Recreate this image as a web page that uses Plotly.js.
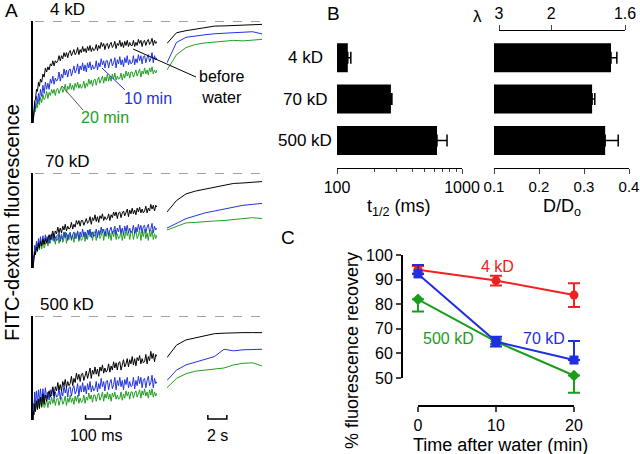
<!DOCTYPE html>
<html><head><meta charset="utf-8">
<script src="https://cdn.plot.ly/plotly-3.0.1.min.js"></script>
<style>html,body{margin:0;padding:0;background:#fff}#plot{width:640px;height:454px}</style>
</head><body><div id="plot"></div>
<script>
// ---------- Panel A data (normalised FITC-dextran fluorescence) ----------
const fastTimeMs = [0,2,4,7,10,14,18,22,26,30,35,40,45,
  50,55,60,65,70,75,80,85,90,95,100,105,110,115,120,125,130,135,140,145,150,155,160,165,170,175,180,185,190,195,
  200,205,210,215,220,225,230,235,240,245,250,255,260,265,270,275,280,285,290,295,300,305,310,315,320,325,330,335,340,345,
  350,355,360,365,370,375,380,385,390,395,400,405,410,415,420,425,430,435,440,445,450,455,460,465,470,475,480,485,490,495,500];
const slowTimeS = [0,1,2,3,4,5,6,7,8,9,10];

const fast4kBlack = [0.00,0.09,0.13,0.22,0.23,0.33,0.31,0.40,0.36,0.43,0.40,0.48,0.45,
  0.54,0.50,0.55,0.52,0.58,0.56,0.61,0.56,0.61,0.59, 0.61,0.66,0.61,0.66,0.63,0.69,0.65,0.69,0.64,0.69,
  0.71,0.66,0.70,0.72,0.67,0.69,0.74,0.67,0.72,0.69, 0.75,0.70,0.73,0.69,0.75,0.71,0.76,0.70,0.74,0.71,
  0.72,0.77,0.71,0.76,0.73,0.79,0.75,0.78,0.72,0.77, 0.78,0.73,0.77,0.79,0.74,0.76,0.80,0.73,0.78,0.76,
  0.81,0.75,0.79,0.74,0.80,0.76,0.81,0.75,0.79,0.76, 0.76,0.81,0.75,0.79,0.76,0.82,0.78,0.81,0.75,0.80,
  0.81,0.76,0.80,0.82,0.77,0.79,0.83,0.76,0.81,0.78, 0.80];
const fast4kBlue = [0.00,0.09,0.08,0.19,0.14,0.26,0.19,0.29,0.22,0.33,0.26,0.37,0.29,
  0.40,0.33,0.39,0.33,0.43,0.39,0.46,0.38,0.44,0.41, 0.43,0.50,0.41,0.48,0.44,0.53,0.47,0.52,0.45,0.52,
  0.53,0.46,0.52,0.56,0.49,0.52,0.58,0.48,0.56,0.52, 0.59,0.51,0.57,0.50,0.59,0.54,0.60,0.52,0.57,0.53,
  0.54,0.61,0.52,0.59,0.55,0.63,0.57,0.61,0.54,0.61, 0.61,0.54,0.60,0.63,0.56,0.59,0.64,0.54,0.62,0.58,
  0.65,0.57,0.62,0.55,0.64,0.59,0.66,0.57,0.62,0.58, 0.59,0.66,0.57,0.63,0.59,0.67,0.61,0.66,0.58,0.65,
  0.66,0.59,0.64,0.67,0.60,0.63,0.69,0.59,0.66,0.62, 0.64];
const fast4kGreen = [0.00,0.07,0.07,0.15,0.11,0.19,0.15,0.23,0.18,0.25,0.20,0.28,0.23,
  0.25,0.31,0.24,0.30,0.27,0.33,0.29,0.33,0.27,0.33, 0.34,0.29,0.33,0.36,0.30,0.33,0.38,0.30,0.36,0.33,
  0.39,0.33,0.37,0.32,0.39,0.35,0.40,0.34,0.38,0.34, 0.36,0.41,0.34,0.39,0.36,0.43,0.38,0.42,0.36,0.42,
  0.43,0.37,0.42,0.45,0.39,0.42,0.46,0.39,0.45,0.41, 0.48,0.41,0.46,0.41,0.48,0.43,0.49,0.42,0.46,0.43,
  0.44,0.49,0.42,0.48,0.44,0.51,0.46,0.50,0.44,0.50, 0.50,0.45,0.49,0.52,0.46,0.49,0.53,0.45,0.51,0.48,
  0.54,0.48,0.52,0.47,0.54,0.50,0.55,0.48,0.52,0.49, 0.52];

const fast70kBlack = [0.00,0.08,0.08,0.17,0.14,0.22,0.18,0.26,0.21,0.28,0.23,0.30,0.25,
  0.31,0.26,0.32,0.35,0.30,0.34,0.39,0.32,0.39,0.36, 0.43,0.37,0.42,0.37,0.44,0.40,0.46,0.39,0.44,0.41,
  0.42,0.48,0.41,0.46,0.43,0.50,0.46,0.50,0.44,0.50, 0.50,0.45,0.50,0.52,0.47,0.49,0.54,0.46,0.53,0.50,
  0.56,0.49,0.54,0.48,0.55,0.52,0.57,0.50,0.54,0.51, 0.52,0.57,0.50,0.56,0.53,0.59,0.55,0.59,0.52,0.58,
  0.59,0.53,0.58,0.60,0.55,0.58,0.62,0.54,0.61,0.57, 0.63,0.57,0.61,0.56,0.63,0.59,0.64,0.58,0.62,0.58,
  0.60,0.65,0.58,0.63,0.60,0.67,0.62,0.66,0.60,0.66, 0.64];
const fast70kBlue = [0.00,0.13,0.11,0.24,0.17,0.28,0.20,0.31,0.22,0.33,0.24,0.34,0.25,
  0.35,0.27,0.33,0.26,0.35,0.30,0.36,0.28,0.33,0.29, 0.30,0.37,0.28,0.34,0.30,0.38,0.32,0.37,0.29,0.36,
  0.37,0.30,0.35,0.38,0.31,0.34,0.39,0.30,0.38,0.33, 0.41,0.33,0.38,0.31,0.40,0.35,0.41,0.32,0.38,0.33,
  0.35,0.41,0.32,0.39,0.35,0.43,0.37,0.41,0.34,0.41, 0.42,0.34,0.40,0.43,0.36,0.39,0.44,0.35,0.42,0.38,
  0.45,0.37,0.42,0.35,0.44,0.39,0.45,0.37,0.42,0.37, 0.39,0.45,0.36,0.43,0.38,0.46,0.40,0.45,0.37,0.44,
  0.45,0.37,0.43,0.46,0.38,0.41,0.47,0.37,0.44,0.40, 0.42];
const fast70kGreen = [0.00,0.11,0.10,0.22,0.14,0.26,0.17,0.28,0.19,0.30,0.20,0.31,0.21,
  0.25,0.33,0.23,0.31,0.26,0.36,0.29,0.34,0.25,0.34, 0.35,0.26,0.32,0.36,0.27,0.31,0.38,0.26,0.35,0.30,
  0.38,0.29,0.35,0.27,0.37,0.31,0.38,0.28,0.34,0.29, 0.31,0.38,0.28,0.36,0.30,0.40,0.33,0.38,0.29,0.38,
  0.38,0.29,0.36,0.40,0.31,0.34,0.41,0.29,0.38,0.33, 0.41,0.31,0.37,0.29,0.39,0.33,0.40,0.30,0.36,0.31,
  0.32,0.40,0.29,0.37,0.31,0.41,0.34,0.39,0.30,0.38, 0.39,0.30,0.36,0.40,0.31,0.34,0.41,0.29,0.38,0.33,
  0.41,0.31,0.37,0.29,0.39,0.33,0.40,0.30,0.36,0.31, 0.35];

const fast500kBlack = [0.00,0.08,0.05,0.15,0.08,0.18,0.10,0.20,0.11,0.22,0.13,0.25,0.15,
  0.24,0.18,0.24,0.28,0.22,0.26,0.32,0.23,0.32,0.28, 0.36,0.29,0.34,0.28,0.37,0.33,0.39,0.31,0.37,0.33,
  0.35,0.42,0.33,0.40,0.36,0.45,0.39,0.44,0.37,0.44, 0.45,0.38,0.44,0.47,0.40,0.44,0.50,0.40,0.48,0.44,
  0.51,0.44,0.49,0.42,0.51,0.47,0.53,0.45,0.50,0.46, 0.48,0.54,0.46,0.52,0.48,0.56,0.50,0.55,0.48,0.55,
  0.56,0.48,0.54,0.58,0.51,0.54,0.59,0.51,0.58,0.54, 0.61,0.53,0.59,0.52,0.60,0.57,0.62,0.54,0.59,0.55,
  0.56,0.63,0.54,0.61,0.57,0.66,0.59,0.64,0.56,0.63, 0.61];
const fast500kBlue = [0.00,0.16,0.13,0.27,0.15,0.28,0.16,0.29,0.17,0.30,0.18,0.30,0.18,
  0.31,0.21,0.27,0.19,0.29,0.23,0.31,0.21,0.27,0.22, 0.23,0.31,0.20,0.28,0.23,0.33,0.26,0.31,0.22,0.31,
  0.32,0.23,0.30,0.33,0.25,0.28,0.35,0.23,0.33,0.27, 0.36,0.27,0.33,0.25,0.35,0.29,0.37,0.27,0.33,0.28,
  0.30,0.37,0.27,0.35,0.30,0.40,0.32,0.37,0.28,0.37, 0.38,0.29,0.36,0.39,0.30,0.34,0.41,0.29,0.38,0.33,
  0.41,0.32,0.38,0.29,0.39,0.34,0.41,0.31,0.37,0.32, 0.33,0.41,0.30,0.38,0.33,0.42,0.35,0.41,0.31,0.39,
  0.40,0.31,0.38,0.42,0.33,0.36,0.43,0.31,0.40,0.35, 0.37];
const fast500kGreen = [0.00,0.10,0.09,0.19,0.11,0.19,0.11,0.20,0.12,0.20,0.12,0.21,0.12,
  0.14,0.20,0.12,0.18,0.15,0.22,0.16,0.21,0.14,0.20, 0.21,0.14,0.19,0.22,0.15,0.18,0.23,0.14,0.21,0.17,
  0.24,0.17,0.21,0.15,0.23,0.18,0.24,0.16,0.21,0.17, 0.18,0.24,0.16,0.22,0.19,0.26,0.20,0.24,0.17,0.24,
  0.24,0.18,0.23,0.26,0.19,0.22,0.27,0.18,0.25,0.21, 0.27,0.20,0.25,0.18,0.26,0.22,0.27,0.20,0.24,0.20,
  0.21,0.27,0.19,0.25,0.21,0.28,0.23,0.27,0.20,0.27, 0.27,0.21,0.26,0.28,0.22,0.25,0.29,0.21,0.28,0.24,
  0.30,0.23,0.27,0.21,0.29,0.24,0.30,0.22,0.27,0.23, 0.26];

const slow4kBlack = [0.78,0.885,0.905,0.92,0.935,0.95,0.952,0.955,0.958,0.962,0.967];
const slow4kBlue = [0.59,0.79,0.84,0.855,0.865,0.875,0.88,0.885,0.89,0.895,0.873];
const slow4kGreen = [0.52,0.67,0.74,0.77,0.785,0.795,0.80,0.81,0.805,0.815,0.82];
const slow70kBlack = [0.59,0.71,0.78,0.81,0.83,0.85,0.87,0.89,0.895,0.905,0.91];
const slow70kBlue = [0.42,0.47,0.52,0.55,0.58,0.60,0.62,0.645,0.66,0.67,0.68];
const slow70kGreen = [0.40,0.44,0.475,0.48,0.49,0.495,0.50,0.51,0.525,0.53,0.52];
const slow500kBlack = [0.60,0.72,0.77,0.79,0.81,0.83,0.835,0.84,0.84,0.84,0.84];
const slow500kBlue = [0.38,0.48,0.53,0.555,0.585,0.61,0.68,0.665,0.675,0.68,0.68];
const slow500kGreen = [0.31,0.40,0.445,0.47,0.48,0.49,0.50,0.53,0.545,0.55,0.52];

const rowLabels = ['4 kD','70 kD','500 kD'];

// ---------- Panel B data ----------
const dextranSizes = ['4 kD','70 kD','500 kD'];
const halfTimeMs = [122, 270, 631];
const halfTimeErr = [7, 5, 128];
const diffRatio = [0.36, 0.318, 0.347];
const diffRatioErr = [0.013, 0.006, 0.029];
const halfTimeTicks = [100, 1000];
const halfTimeMinor = [200,300,400,500,600,700,800,900];
const diffTicks = [0.1, 0.2, 0.3, 0.4];
const lambdaLabels = ['3','2','1.6'];
const lambdaPos = [0.111, 0.227, 0.391];

// ---------- Panel C data ----------
const timeAfterWater = [0, 10, 20];
const rec4k = [94, 89.6, 83.7];
const rec4kErr = [1.5, 2, 4.8];
const rec70k = [92.3, 64.8, 57.3];
const rec70kErrPlus = [3.6, 2, 7.7];
const rec70kErrMinus = [0, 2, 0];
const rec500k = [82, 64.8, 51];
const rec500kErrPlus = [0, 1, 0];
const rec500kErrMinus = [5, 1, 7];
const recTicks = [50, 60, 70, 80, 90, 100];
const timeTicks = [0, 10, 20];

// ---------- layout helpers ----------
const W = 640, H = 454;
const px = x => x / W;
const py = y => 1 - y / H;
const FONT = 'Liberation Sans, Arial, sans-serif';
const cBlack = '#000000', cBlue = '#2233dd', cGreen = '#22a022';
const cRed = '#ee2222', cBlueC = '#1e2ee0', cGreenC = '#1c9c1c';

const traces = [];
const layout = {
  width: W, height: H, margin: {l:0, r:0, t:0, b:0},
  paper_bgcolor: '#fff', plot_bgcolor: 'rgba(0,0,0,0)',
  showlegend: false, font: {family: FONT, size: 15, color: '#000'},
  shapes: [], annotations: []
};

const rowTop = [21, 173, 316], rowBot = [123, 268, 420];
const fastSets = [[fast4kGreen, fast4kBlue, fast4kBlack],[fast70kGreen, fast70kBlue, fast70kBlack],[fast500kGreen, fast500kBlue, fast500kBlack]];
const slowSets = [[slow4kGreen, slow4kBlue, slow4kBlack],[slow70kGreen, slow70kBlue, slow70kBlack],[slow500kGreen, slow500kBlue, slow500kBlack]];
const colSet = [cGreen, cBlue, cBlack];

for (let r = 0; r < 3; r++) {
  const xf = 2*r+1, xs = 2*r+2;
  const ydom = [py(rowBot[r]), py(rowTop[r])];
  layout['xaxis'+xf] = {domain:[px(33), px(157)], range:[0,500], visible:false, anchor:'y'+xf};
  layout['yaxis'+xf] = {domain:ydom, range:[0,1], anchor:'x'+xf, showline:true, linewidth:2, linecolor:'#000',
                        showticklabels:false, ticks:'', showgrid:false, zeroline:false};
  layout['xaxis'+xs] = {domain:[px(167), px(262)], range:[0,10], visible:false, anchor:'y'+xs};
  layout['yaxis'+xs] = {domain:ydom, range:[0,1], visible:false, anchor:'x'+xs};
  for (let k = 0; k < 3; k++) {
    traces.push({type:'scatter', mode:'lines', x:fastTimeMs, y:fastSets[r][k], xaxis:'x'+xf, yaxis:'y'+xf,
                 line:{color:colSet[k], width:1}, hoverinfo:'skip'});
    traces.push({type:'scatter', mode:'lines', x:slowTimeS, y:slowSets[r][k], xaxis:'x'+xs, yaxis:'y'+xs,
                 line:{color:colSet[k], width:1}, hoverinfo:'skip'});
  }
  layout.shapes.push({type:'line', xref:'paper', yref:'y'+xf, x0:px(35), x1:px(263), y0:1, y1:1,
                      line:{color:'#444', width:1, dash:'dash'}});
  layout.annotations.push({text:rowLabels[r], xref:'paper', yref:'paper', x:px(67), y:py(rowTop[r]-12),
                           showarrow:false, font:{size:17}, xanchor:'center', yanchor:'middle'});
}

// scale bars
layout.shapes.push({type:'path', xref:'x5', yref:'paper',
  path:`M212,${py(415)} L212,${py(419)} L312,${py(419)} L312,${py(415)}`, line:{color:'#000', width:1.5}});
layout.shapes.push({type:'path', xref:'x6', yref:'paper',
  path:`M4.3,${py(415)} L4.3,${py(419)} L6.3,${py(419)} L6.3,${py(415)}`, line:{color:'#000', width:1.5}});

// pointer lines
layout.shapes.push({type:'line', xref:'paper', yref:'paper', x0:px(133), y0:py(49), x1:px(196), y1:py(77), line:{color:'#000', width:1}});
layout.shapes.push({type:'line', xref:'paper', yref:'paper', x0:px(102), y0:py(68), x1:px(125), y1:py(90), line:{color:cBlue, width:1}});
layout.shapes.push({type:'line', xref:'paper', yref:'paper', x0:px(62), y0:py(86), x1:px(83), y1:py(110), line:{color:'#555', width:1}});

// ---------- Panel B ----------
const bYdom = [py(168), py(37)];
layout.xaxis7 = {type:'log', domain:[px(337), px(462)], range:[2,3], anchor:'y7', tickmode:'array', tickvals:halfTimeTicks,
  ticktext:halfTimeTicks.map(String), ticks:'outside', ticklen:5, tickwidth:1, showline:true, linewidth:1, linecolor:'#000',
  showgrid:false, zeroline:false, tickfont:{size:16}, ticklabeloverflow:'allow',
  minor:{tickmode:'array', tickvals:halfTimeMinor, ticks:'outside', ticklen:3, tickwidth:1, showgrid:false}};
layout.yaxis7 = {domain:bYdom, type:'category', categoryorder:'array', categoryarray:dextranSizes, range:[2.667,-0.5],
  anchor:'x7', visible:false};
layout.xaxis8 = {domain:[px(494), px(629)], range:[0.1,0.4], anchor:'y8', tickmode:'array', tickvals:diffTicks,
  ticktext:diffTicks.map(v=>v.toFixed(1)), ticks:'outside', ticklen:5, tickwidth:1, showline:true, linewidth:1, linecolor:'#000',
  showgrid:false, zeroline:false, tickfont:{size:15}, ticklabeloverflow:'allow'};
layout.yaxis8 = {domain:bYdom, type:'category', categoryorder:'array', categoryarray:dextranSizes, range:[2.667,-0.5],
  anchor:'x8', visible:false};
layout.xaxis9 = {domain:[px(499), px(625)], range:[lambdaPos[0], lambdaPos[2]], anchor:'free', position:py(30), side:'top',
  tickmode:'array', tickvals:lambdaPos, ticktext:lambdaLabels, ticks:'outside', ticklen:5, tickwidth:1, ticklabeloverflow:'allow',
  showline:true, linewidth:1, linecolor:'#000', showgrid:false, zeroline:false, tickfont:{size:16}};
layout.yaxis9 = {domain:bYdom, range:[0,1], anchor:'x9', visible:false};

traces.push({type:'bar', orientation:'h', y:dextranSizes, x:halfTimeMs, xaxis:'x7', yaxis:'y7', width:0.7,
  marker:{color:'#000', line:{width:0}}, hoverinfo:'skip',
  error_x:{type:'data', symmetric:false, array:halfTimeErr, arrayminus:[0,0,0], color:'#000', thickness:1.5, width:6}});
traces.push({type:'bar', orientation:'h', y:dextranSizes, x:diffRatio, xaxis:'x8', yaxis:'y8', width:0.7,
  marker:{color:'#000', line:{width:0}}, hoverinfo:'skip',
  error_x:{type:'data', symmetric:false, array:diffRatioErr, arrayminus:[0,0,0], color:'#000', thickness:1.5, width:6}});
traces.push({type:'scatter', mode:'markers', x:[lambdaPos[1]], y:[0.5], xaxis:'x9', yaxis:'y9',
  marker:{opacity:0}, hoverinfo:'skip'});

dextranSizes.forEach(c => layout.annotations.push({text:c, xref:'paper', yref:'y7', x:px(305), y:c, showarrow:false,
  font:{size:17}, xanchor:'center', yanchor:'middle'}));

// ---------- Panel C ----------
layout.xaxis10 = {domain:[px(402), px(580)], range:[-2.05, 20.77], anchor:'y10', tickmode:'array', tickvals:timeTicks,
  ticks:'outside', ticklen:5, tickwidth:2, showline:false, showgrid:false, zeroline:false, tickfont:{size:16}};
layout.yaxis10 = {domain:[py(406), py(250)], range:[38.62, 102.03], anchor:'x10', tickmode:'array', tickvals:recTicks,
  ticks:'outside', ticklen:5, tickwidth:2, showline:false, showgrid:false, zeroline:false, tickfont:{size:16}};
layout.shapes.push({type:'line', xref:'x10 domain', yref:'y10', x0:0, x1:0, y0:50, y1:100, line:{color:'#000', width:2}});
layout.shapes.push({type:'line', xref:'x10', yref:'y10 domain', x0:0, x1:20, y0:0, y1:0, line:{color:'#000', width:2}});

traces.push({type:'scatter', mode:'lines+markers', x:timeAfterWater, y:rec4k, xaxis:'x10', yaxis:'y10', cliponaxis:false,
  line:{color:cRed, width:2}, marker:{symbol:'circle', size:9, color:cRed},
  error_y:{type:'data', array:rec4kErr, color:cRed, thickness:2, width:6}, hoverinfo:'skip'});
traces.push({type:'scatter', mode:'lines+markers', x:timeAfterWater, y:rec500k, xaxis:'x10', yaxis:'y10', cliponaxis:false,
  line:{color:cGreenC, width:2}, marker:{symbol:'diamond', size:9, color:cGreenC},
  error_y:{type:'data', symmetric:false, array:rec500kErrPlus, arrayminus:rec500kErrMinus, color:cGreenC, thickness:2, width:6}, hoverinfo:'skip'});
traces.push({type:'scatter', mode:'lines+markers', x:timeAfterWater, y:rec70k, xaxis:'x10', yaxis:'y10', cliponaxis:false,
  line:{color:cBlueC, width:2}, marker:{symbol:'square', size:9, color:cBlueC},
  error_y:{type:'data', symmetric:false, array:rec70kErrPlus, arrayminus:rec70kErrMinus, color:cBlueC, thickness:2, width:6}, hoverinfo:'skip'});

// ---------- text annotations ----------
const ann = (text, x, y, opts={}) => layout.annotations.push(Object.assign({text, xref:'paper', yref:'paper', x:px(x), y:py(y),
  showarrow:false, xanchor:'center', yanchor:'middle', font:{size:16}}, opts));
ann('A', 11, 11, {font:{size:19}});
ann('B', 333, 13, {font:{size:19}});
ann('C', 288, 238, {font:{size:19}});
ann('before<br>water', 221, 87, {font:{size:16}});
ann('10 min', 148, 98, {font:{size:16, color:cBlue}});
ann('20 min', 105, 117, {font:{size:16, color:cGreen}});
ann('FITC-dextran fluorescence', 12, 223, {textangle:-90, font:{size:20}});
ann('100 ms', 96, 435);
ann('2 s', 217, 435);
ann('t<sub>1/2</sub> (ms)', 399, 207, {font:{size:18}});
ann('D/D<sub>o</sub>', 562, 207, {font:{size:18}});
ann('λ', 477, 17, {font:{size:17}});
ann('4 kD', 497, 266, {font:{size:16, color:cRed}});
ann('70 kD', 544, 338, {font:{size:16, color:cBlueC}});
ann('500 kD', 448, 338, {font:{size:16, color:cGreenC}});
ann('% fluorescence recovery', 352, 351, {textangle:-90, font:{size:18}});
ann('Time after water (min)', 500, 445, {font:{size:18}});

Plotly.newPlot('plot', traces, layout, {staticPlot:true, displayModeBar:false});
</script></body></html>
